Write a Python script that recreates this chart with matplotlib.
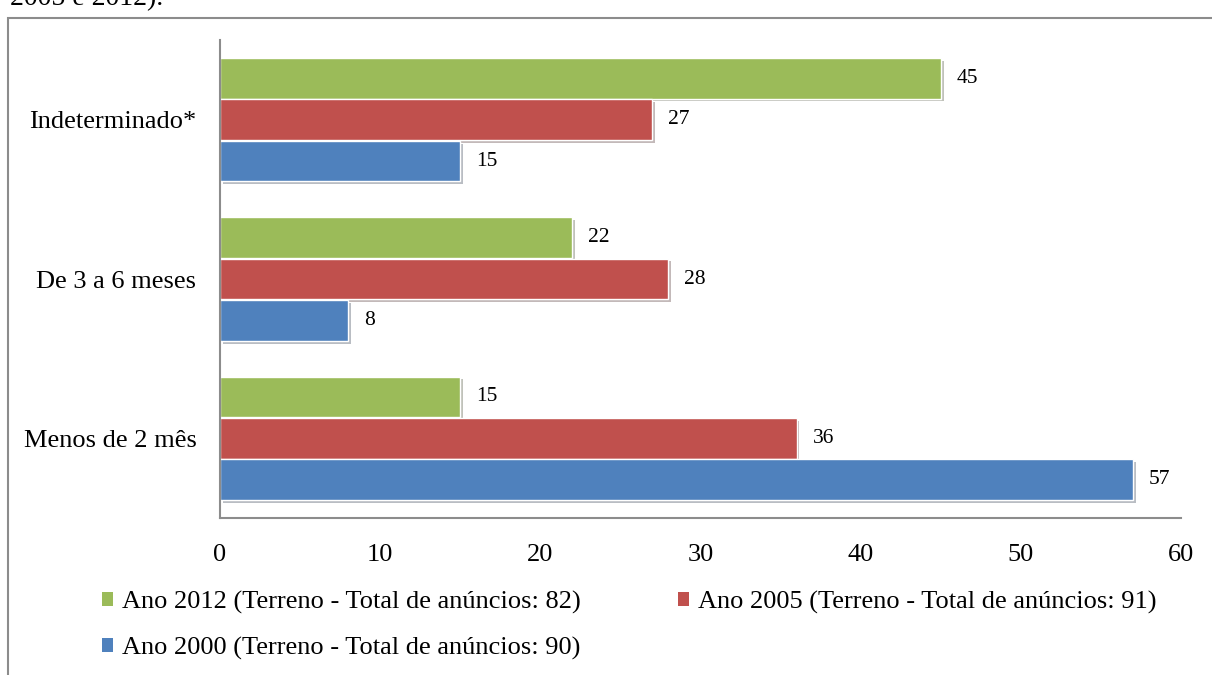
import matplotlib.pyplot as plt
import matplotlib.patheffects as pe
from matplotlib.patches import Rectangle, Patch
import numpy as np

categories = ['Menos de 2 mês', 'De 3 a 6 meses', 'Indeterminado*']
ano_2012 = [15, 22, 45]
ano_2005 = [36, 28, 27]
ano_2000 = [57, 8, 15]
series_labels = ['Ano 2012 (Terreno - Total de anúncios: 82)',
                 'Ano 2005 (Terreno - Total de anúncios: 91)',
                 'Ano 2000 (Terreno - Total de anúncios: 90)']
colors = ['#9BBB59', '#C0504D', '#4F81BD']

plt.rcParams['font.family'] = ['Liberation Serif', 'DejaVu Serif']

fig = plt.figure(figsize=(12.12, 6.75), dpi=100)
ax = fig.add_axes([220 / 1212, 1 - 518 / 675, 961 / 1212, 478 / 675])

# frame around the chart (cut at the bottom/right like the source)
fig.patches.append(Rectangle((8 / 1212, -0.1), 1.2, 1 - 18 / 675 + 0.1,
                             transform=fig.transFigure, fill=False,
                             edgecolor='#8c8c8c', linewidth=1.5))
fig.text(10 / 1212, 1 - 11 / 675, '2005 e 2012).', fontsize=20,
         va='bottom', ha='left')

y = np.arange(len(categories))
h = 0.255
offsets = [h + 0.005, 0, -(h + 0.005)]
shadow = [pe.SimplePatchShadow(offset=(2, -2), alpha=0.3), pe.Normal()]
for vals, off, col in zip([ano_2012, ano_2005, ano_2000], offsets, colors):
    bars = ax.barh(y + off, vals, height=h, color=col, edgecolor='white', linewidth=1)
    for b in bars:
        b.set_path_effects(shadow)
    for yy, v in zip(y + off, vals):
        ax.text(v + 1.0, yy, str(v), va='center', ha='left', fontsize=15.5)

ax.set_xlim(0, 60)
ax.set_ylim(-0.5, 2.5)
ax.set_xticks(range(0, 61, 10))
ax.set_yticks(y)
ax.set_yticklabels(categories)
ax.tick_params(axis='both', length=0, labelsize=19)
ax.tick_params(axis='x', pad=19)
ax.tick_params(axis='y', pad=17)
for s in ['top', 'right']:
    ax.spines[s].set_visible(False)
for s in ['left', 'bottom']:
    ax.spines[s].set_color('#8c8c8c')
    ax.spines[s].set_linewidth(1.5)

# legend filled row by row: 2012, 2005 / 2000
order = [0, 2, 1]
handles = [Patch(facecolor=colors[i]) for i in order]
labels = [series_labels[i] for i in order]
fig.legend(handles=handles, labels=labels, ncol=2, frameon=False,
           loc='upper left', bbox_to_anchor=(102 / 1212, 1 - 591 / 675),
           borderpad=0, borderaxespad=0,
           fontsize=19, handlelength=0.42, handleheight=0.42,
           handletextpad=0.34, columnspacing=3.67, labelspacing=0.87)

fig.savefig('out.png', dpi=100)
